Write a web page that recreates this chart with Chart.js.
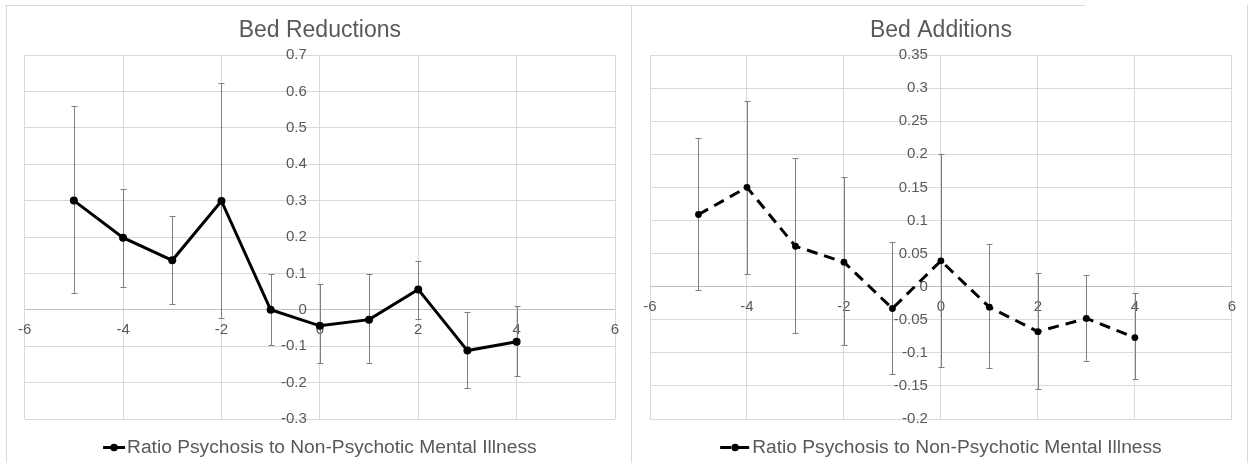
<!DOCTYPE html>
<html>
<head>
<meta charset="utf-8">
<script src="https://cdn.jsdelivr.net/npm/chart.js@4.4.0/dist/chart.umd.min.js"></script>
<style>
    body { margin: 0; background: #fff; width: 1252px; height: 463px; overflow: hidden; position: relative; }
    .rule { position: absolute; background: #d9d9d9; }
    .panel { position: absolute; }
</style>
</head>
<body>
<div class="rule" style="left:5px;top:5px;width:1080px;height:1px"></div>
<div class="rule" style="left:6px;top:5px;width:1px;height:458px"></div>
<div class="rule" style="left:631px;top:5px;width:1px;height:458px"></div>
<div class="rule" style="left:1247px;top:5px;width:1px;height:458px"></div>
<div class="panel" style="left:7px;top:6px"><canvas id="reductionsChart" width="624" height="457"></canvas></div>
<div class="panel" style="left:632px;top:6px"><canvas id="additionsChart" width="615" height="457"></canvas></div>
<script>
// Years relative to the bed change
const eventYears = [-5, -4, -3, -2, -1, 0, 1, 2, 3, 4];

// Bed reductions: estimate with lower / upper bounds
const reductionRatio = [0.300, 0.198, 0.136, 0.299, 0.000, -0.044, -0.027, 0.056, -0.112, -0.088];
const reductionLow = [0.045, 0.064, 0.016, -0.022, -0.097, -0.145, -0.145, -0.024, -0.214, -0.182];
const reductionHigh = [0.559, 0.332, 0.258, 0.623, 0.097, 0.072, 0.097, 0.135, -0.005, 0.010];

// Bed additions: estimate with lower / upper bounds
const additionRatio = [0.109, 0.150, 0.061, 0.037, -0.033, 0.039, -0.031, -0.068, -0.048, -0.077];
const additionLow = [-0.005, 0.019, -0.070, -0.088, -0.132, -0.121, -0.123, -0.155, -0.112, -0.140];
const additionHigh = [0.224, 0.281, 0.194, 0.166, 0.067, 0.200, 0.065, 0.020, 0.018, -0.010];

// Axis ticks
const xTicks = [-6, -4, -2, 0, 2, 4, 6];
const reductionTicks = [-0.3, -0.2, -0.1, 0, 0.1, 0.2, 0.3, 0.4, 0.5, 0.6, 0.7];
const additionTicks = [-0.2, -0.15, -0.1, -0.05, 0, 0.05, 0.1, 0.15, 0.2, 0.25, 0.3, 0.35];

const seriesLabel = 'Ratio Psychosis to Non-Psychotic Mental Illness';
const fontFamily = '"Liberation Sans", Arial, sans-serif';
const textColor = '#595959';

// Vertical whiskers with caps behind the line
const errorBars = {
    id: 'errorBars',
    beforeDatasetsDraw(chart, args, opts) {
        const { ctx, scales: { x, y } } = chart;
        ctx.save();
        ctx.strokeStyle = '#7f7f7f';
        ctx.lineWidth = 1;
        opts.low.forEach((lo, i) => {
            const px = Math.round(x.getPixelForValue(eventYears[i])) + 0.5;
            const top = Math.round(y.getPixelForValue(opts.high[i])) + 0.5;
            const bottom = Math.round(y.getPixelForValue(lo)) + 0.5;
            ctx.beginPath();
            ctx.moveTo(px, top);
            ctx.lineTo(px, bottom);
            ctx.moveTo(px - 3, top);
            ctx.lineTo(px + 3, top);
            ctx.moveTo(px - 3, bottom);
            ctx.lineTo(px + 3, bottom);
            ctx.stroke();
        });
        ctx.restore();
    }
};

// Value labels sit just left of the vertical axis at x = 0
const yAxisLabels = {
    id: 'yAxisLabels',
    afterDraw(chart) {
        const { ctx, scales: { x, y } } = chart;
        const axisX = x.getPixelForValue(0);
        ctx.save();
        ctx.fillStyle = textColor;
        ctx.font = '15px ' + fontFamily;
        ctx.textAlign = 'right';
        ctx.textBaseline = 'middle';
        y.ticks.forEach(t => {
            ctx.fillText(String(t.value), axisX - 13, y.getPixelForValue(t.value));
        });
        ctx.restore();
    }
};

// Title above the plot and the line-sample legend below it
const panelText = {
    id: 'panelText',
    afterDraw(chart, args, opts) {
        const { ctx, chartArea } = chart;
        const cx = (chartArea.left + chartArea.right) / 2;
        const ds = chart.data.datasets[0];
        ctx.save();
        ctx.fillStyle = textColor;
        ctx.textAlign = 'center';
        ctx.textBaseline = 'alphabetic';
        ctx.font = '23px ' + fontFamily;
        ctx.fillText(opts.title, cx, 31);

        ctx.font = '19.2px ' + fontFamily;
        const textW = ctx.measureText(ds.label).width;
        const total = opts.sampleWidth + 2 + textW;
        const sx = cx - total / 2;
        const sy = 441.5;
        ctx.strokeStyle = '#000';
        ctx.lineWidth = 3;
        ctx.setLineDash(ds.borderDash || []);
        ctx.beginPath();
        ctx.moveTo(sx, sy);
        ctx.lineTo(sx + opts.sampleWidth, sy);
        ctx.stroke();
        ctx.setLineDash([]);
        ctx.fillStyle = '#000';
        ctx.beginPath();
        ctx.arc(sx + opts.sampleWidth / 2, sy, 3.8, 0, Math.PI * 2);
        ctx.fill();
        ctx.fillStyle = textColor;
        ctx.textAlign = 'left';
        ctx.fillText(ds.label, sx + opts.sampleWidth + 2, 447);
        ctx.restore();
    }
};

function gridColor(ctx) {
    return ctx.tick && ctx.tick.value === 0 ? '#bfbfbf' : '#d9d9d9';
}

function makeChart(canvasId, cfg) {
    const ctx = document.getElementById(canvasId).getContext('2d');
    return new Chart(ctx, {
        type: 'line',
        data: {
            datasets: [{
                label: seriesLabel,
                data: eventYears.map((yr, i) => ({ x: yr, y: cfg.ratio[i] })),
                borderColor: '#000',
                backgroundColor: '#000',
                borderWidth: 3,
                borderDash: cfg.dash,
                pointRadius: cfg.pointRadius,
                pointBorderWidth: 0,
                tension: 0
            }]
        },
        options: {
            responsive: false,
            animation: false,
            layout: { padding: cfg.padding },
            plugins: {
                legend: { display: false },
                title: { display: false },
                tooltip: { enabled: false },
                errorBars: { low: cfg.low, high: cfg.high },
                panelText: { title: cfg.title, sampleWidth: cfg.sampleWidth }
            },
            scales: {
                x: {
                    type: 'linear',
                    min: -6,
                    max: 6,
                    position: { y: 0 },
                    afterBuildTicks: s => { s.ticks = xTicks.map(v => ({ value: v })); },
                    grid: { color: '#d9d9d9', drawTicks: false },
                    border: { display: false },
                    ticks: {
                        color: textColor,
                        font: { size: 15, family: fontFamily },
                        padding: 11,
                        maxRotation: 0,
                        autoSkip: false,
                        callback: v => String(v)
                    }
                },
                y: {
                    type: 'linear',
                    min: cfg.ticks[0],
                    max: cfg.ticks[cfg.ticks.length - 1],
                    afterBuildTicks: s => { s.ticks = cfg.ticks.map(v => ({ value: v })); },
                    grid: { color: gridColor, drawTicks: false },
                    border: { display: false },
                    ticks: { display: false }
                }
            }
        },
        plugins: [errorBars, yAxisLabels, panelText]
    });
}

makeChart('reductionsChart', {
    title: 'Bed Reductions',
    ratio: reductionRatio,
    low: reductionLow,
    high: reductionHigh,
    ticks: reductionTicks,
    dash: [],
    pointRadius: 4,
    sampleWidth: 22,
    padding: { left: 16, right: 16, top: 49, bottom: 44 }
});

makeChart('additionsChart', {
    title: 'Bed Additions',
    ratio: additionRatio,
    low: additionLow,
    high: additionHigh,
    ticks: additionTicks,
    dash: [11, 7],
    pointRadius: 3.4,
    sampleWidth: 30,
    padding: { left: 18, right: 14, top: 49, bottom: 44 }
});
</script>
</body>
</html>
